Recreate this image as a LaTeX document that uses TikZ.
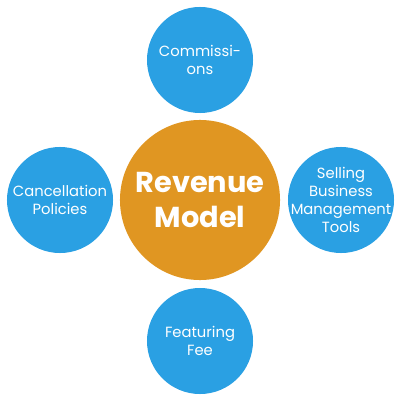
\documentclass[tikz,border=0pt]{standalone}
\usepackage{fontspec}
\setmainfont{Poppins}
\usetikzlibrary{positioning}
\definecolor{revblue}{RGB}{42,160,227}
\definecolor{revorange}{RGB}{224,150,34}
\tikzset{x=0.025cm, y=-0.025cm}

\begin{document}
\begin{tikzpicture}
\tikzset{
  satellite/.style={circle, fill=revblue, text=white, minimum size=2.65cm, inner sep=-10pt, align=center, font=\fontsize{10.5}{12.8}\selectfont},
  hub/.style={circle, fill=revorange, text=white, minimum size=4cm, inner sep=-10pt, align=center, font=\fontsize{20.5}{25.5}\selectfont\bfseries}
}
\useasboundingbox (0,0) rectangle (400,400);

\node[hub] (model) at (200,200) {Revenue\\Model};

\node[satellite] (commissions) at (200,60) {Commissi-\\ons};
\node[satellite] (cancellation) at (60,200) {Cancellation\\Policies};
\node[satellite] (selling) at (341,200) {Selling\\Business\\Management\\Tools};
\node[satellite] (featuring) at (200,341) {Featuring\\Fee};
\end{tikzpicture}
\end{document}
